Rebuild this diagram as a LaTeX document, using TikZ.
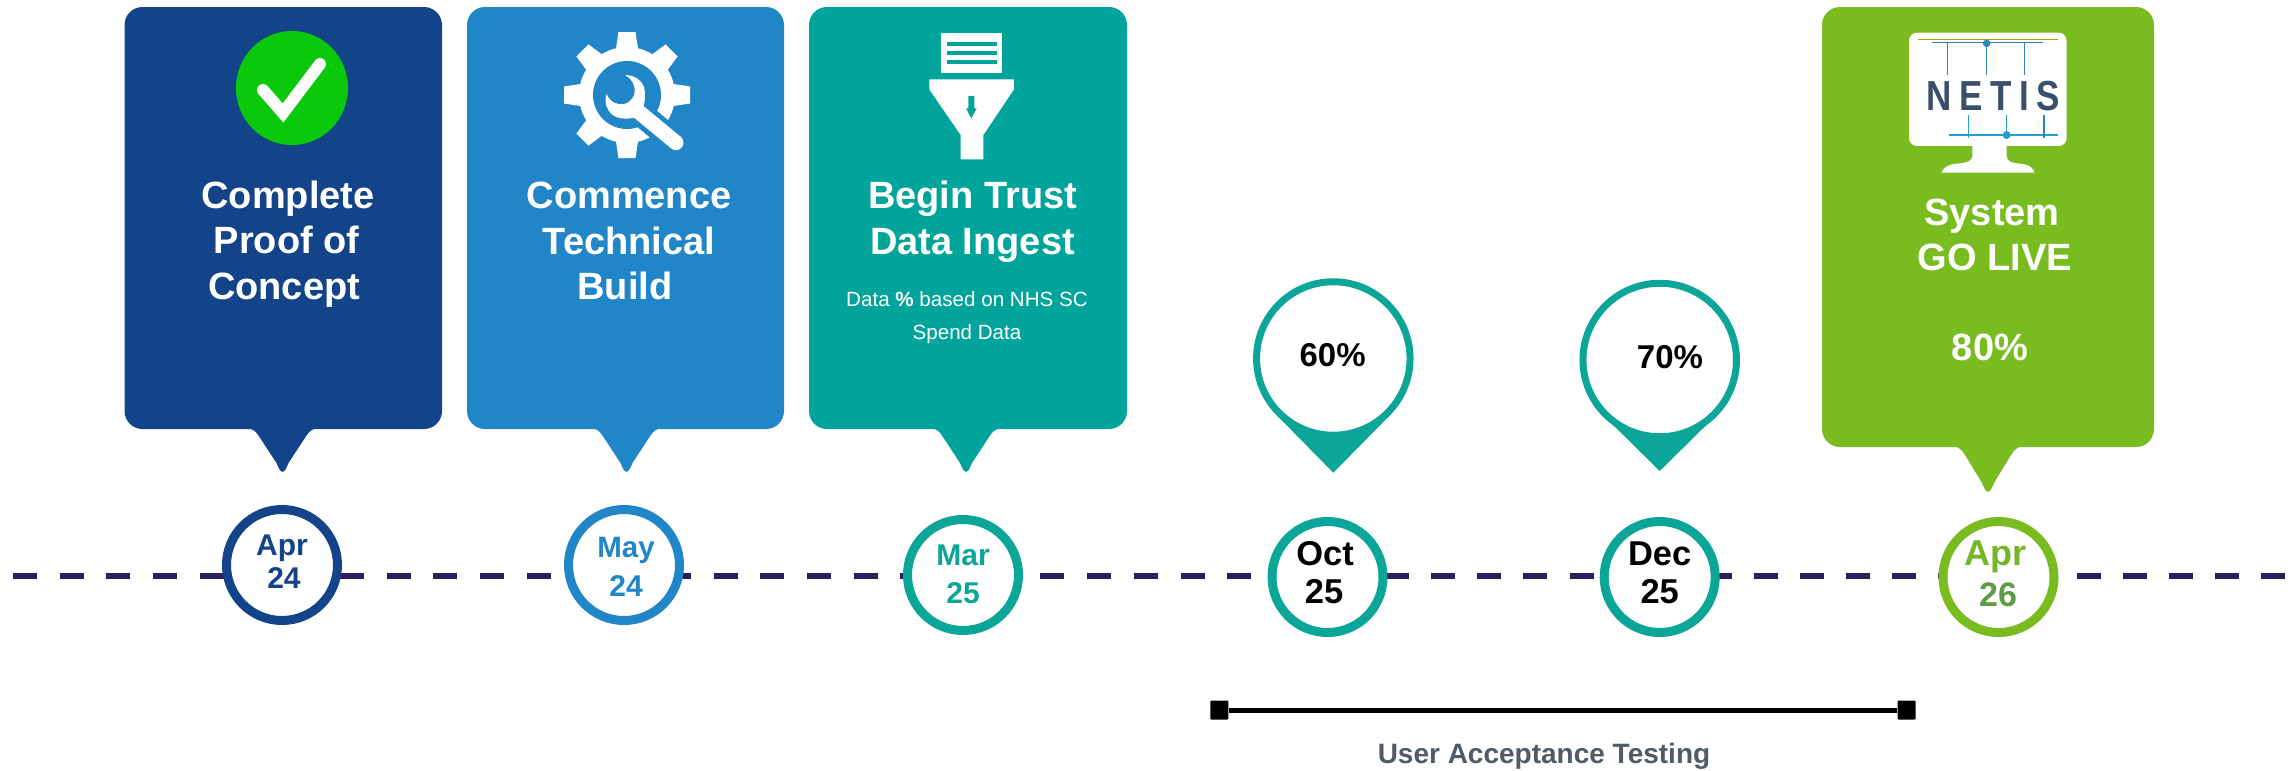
\documentclass[tikz,border=0pt]{standalone}
\usepackage{fontspec}
\setmainfont{Liberation Sans}
\newfontfamily\netisfont[LetterSpace=22,BoldFont={Liberation Sans Bold}]{Liberation Sans}
\definecolor{navy}{HTML}{134389}
\definecolor{midblue}{HTML}{2186C8}
\definecolor{teal}{HTML}{00A49A}
\definecolor{ringteal}{HTML}{0CA698}
\definecolor{leaf}{HTML}{78BC1F}
\definecolor{leafdark}{HTML}{5E9C45}
\definecolor{axis}{HTML}{2A1F5C}
\definecolor{okgreen}{HTML}{0AC80A}
\definecolor{netisink}{HTML}{3A4F6B}
\definecolor{netisblue}{HTML}{2E86C1}
\definecolor{netiscyan}{HTML}{23A0C8}
\definecolor{uat}{HTML}{4F5B66}
\newcommand{\bubble}[6]{%
  \fill[#1,rounded corners=18pt] (#2,7) rectangle (#3,#4);
  \fill[#1] (#5-36,#4-1) .. controls (#5-30,#4-1) and (#5-26,#4+3) .. (#5-23,#4+8)
    -- (#5-6,#6-9) .. controls (#5-3,#6-2) and (#5-2,#6) .. (#5,#6)
    .. controls (#5+2,#6) and (#5+3,#6-2) .. (#5+6,#6-9)
    -- (#5+23,#4+8) .. controls (#5+26,#4+3) and (#5+30,#4-1) .. (#5+36,#4-1) -- cycle;
}
\tikzset{
  title/.style={text=white,font=\bfseries\fontsize{38}{45.5}\selectfont,align=center,inner sep=0pt},
  small/.style={text=white,font=\fontsize{20.6}{33}\selectfont,align=center,inner sep=0pt},
  daylabel/.style={anchor=base,inner sep=0pt,font=\bfseries\fontsize{#1}{#1}\selectfont},
  daylabel/.default=30,
  datering/.style={circle,draw=#1,line width=9pt,fill=white,minimum size=111pt,inner sep=0pt},
  pinring/.style={circle,draw=ringteal,line width=7pt,fill=white,minimum size=153.5pt,inner sep=0pt},
  barcap/.style={fill=black,minimum width=18pt,minimum height=19pt,inner sep=0pt,rounded corners=1pt},
}
\begin{document}
\begin{tikzpicture}[x=1pt,y=-1pt]
\useasboundingbox (0,0) rectangle (2295,771);
\fill[white] (0,0) rectangle (2295,771);

% timeline
\coordinate (axisL) at (13,576);
\coordinate (axisM) at (1339,576);
\coordinate (axisR) at (2295,576);
\draw[axis,line width=5.5pt,dash pattern=on 24pt off 22.7pt] (axisL) -- (axisM);
\draw[axis,line width=5.5pt,dash pattern=on 24pt off 22.1pt] (axisM) -- (axisR);

% bubbles
\bubble{navy}{124.5}{442}{429}{282.5}{472}
\bubble{midblue}{467}{784}{429}{626.5}{472}
\bubble{teal}{809}{1127}{429}{966}{472}
\bubble{leaf}{1822}{2154}{447}{1988}{492}

\node[title] (t1) at (288,244) {Complete\\Proof of\kern3pt\\Concept\kern8pt};
\node[title] (t2) at (629,241) {Commence\\Technical\\Build\kern8pt};
\node[title] (t3) at (972.5,222) {Begin Trust\\Data Ingest};
\node[small] (t3b) at (967,318) {Data {\bfseries\%} based on NHS SC\\Spend Data};
\node[title] (t4) at (1995,235) {System\kern6pt\\GO LIVE};
\node[title,anchor=base] (t4b) at (1990,360) {80\%};

% check icon
\fill[okgreen] (292,88) ellipse [x radius=56pt,y radius=57pt];
\draw[white,line width=12pt,line cap=round,line join=miter] (263,90) -- (283,113) -- (320,64);

% gear icon
\begin{scope}[shift={(627,95)}]
  \foreach \a in {0,45,...,315}{
    \fill[white,rotate=\a] (-12,-40) -- (-8.5,-63) -- (8.5,-63) -- (12,-40) -- cycle;
  }
  \fill[white] (0,0) circle[radius=48pt];
  \fill[midblue] (0,0) circle[radius=34pt];
\end{scope}
\begin{scope}[shift={(550,20)},x=0.3333pt,y=-0.3333pt]
  \draw[midblue,line width=25pt,line cap=round] (262,272) -- (372,364);
  \draw[white,line width=15pt,line cap=round] (262,272) -- (378,368);
  \fill[white] (225,165) .. controls (262,165) and (288,190) .. (285,228)
    .. controls (285,250) and (280,270) .. (265,290)
    .. controls (235,300) and (190,300) .. (175,270)
    .. controls (165,255) and (165,238) .. (170,222)
    .. controls (180,248) and (205,256) .. (222,252)
    .. controls (246,246) and (258,225) .. (253,200)
    .. controls (248,182) and (238,172) .. (225,165) -- cycle;
\end{scope}

% funnel icon
\begin{scope}[shift={(900,20)},x=0.3333pt,y=-0.3333pt]
  \fill[white] (122,40) rectangle (307,160);
  \fill[teal] (142,66) rectangle (290,78);
  \fill[teal] (142,94) rectangle (290,106);
  \fill[teal] (142,121) rectangle (290,133);
  \fill[white] (88,178) -- (342,178) -- (342,208) -- (250,345) -- (250,418) -- (182,418) -- (182,345) -- (88,208) -- cycle;
  \fill[teal] (205,228) -- (223,228) -- (223,265) -- (230,265) -- (214,295) -- (198,265) -- (205,265) -- cycle;
\end{scope}

% monitor icon
\begin{scope}[shift={(1895,20)},x=0.3333pt,y=-0.3333pt]
  \fill[white,rounded corners=8pt] (42,38) rectangle (515,378);
  \fill[white] (232,370) -- (335,370) -- (335,410) .. controls (337,425) and (350,430) .. (385,432)
    .. controls (405,436) and (418,448) .. (418,458) -- (140,458)
    .. controls (140,448) and (155,436) .. (175,432)
    .. controls (210,430) and (230,425) .. (232,410) -- cycle;
  \draw[leaf!60!orange,line width=1pt] (70,60) -- (490,60);
  \draw[netisblue,line width=1.4pt] (110,68) -- (445,68);
  \draw[netisblue,line width=1.4pt] (158,68) -- (158,165);
  \draw[netisblue,line width=1.4pt] (275,68) -- (275,165);
  \draw[netisblue,line width=1.4pt] (388,68) -- (388,165);
  \fill[netisblue] (275,70) circle[radius=3.8pt];
  \draw[netiscyan,line width=1.4pt] (163,345) -- (490,345);
  \draw[netiscyan,line width=1.4pt] (220,285) -- (220,355);
  \draw[netiscyan,line width=1.4pt] (335,285) -- (335,355);
  \draw[netisblue,line width=1.4pt] (447,285) -- (447,355);
  \fill[netiscyan] (335,345) circle[radius=4pt];
\end{scope}
\node[text=netisink,inner sep=0pt,yscale=1.2,font=\netisfont\bfseries\fontsize{35}{35}\selectfont] (netis) at (1993,96) {NETIS};

% pins
\fill[ringteal] (1276.5,415) -- (1390.1,415) -- (1333.3,472.7) -- cycle;
\node[pinring] (p60) at (1333.3,358.5) {};
\node[daylabel=33] (p60t) at (1332.6,366) {60\%};
\fill[ringteal] (1604,416) -- (1715.4,416) -- (1659.7,471) -- cycle;
\node[pinring] (p70) at (1659.7,360) {};
\node[daylabel=33] (p70t) at (1670,368) {70\%};

% date rings
\node[datering=navy] (d1) at (282,565) {};
\node[daylabel,text=navy] (d1a) at (282,555) {Apr};
\node[daylabel,text=navy] (d1b) at (284,588) {24};
\node[datering=midblue] (d2) at (624,565) {};
\node[daylabel=29.5,text=midblue] (d2a) at (626,557) {May};
\node[daylabel,text=midblue] (d2b) at (626,596) {24};
\node[datering=ringteal] (d3) at (963,575) {};
\node[daylabel,text=ringteal] (d3a) at (963,565) {Mar};
\node[daylabel,text=ringteal] (d3b) at (963,603) {25};
\node[datering=ringteal] (d4) at (1327.5,577) {};
\node[daylabel=34.5] (d4a) at (1325,565) {Oct};
\node[daylabel=34.5] (d4b) at (1324,603) {25};
\node[datering=ringteal] (d5) at (1659.7,577) {};
\node[daylabel=34.5] (d5a) at (1659.7,565) {Dec};
\node[daylabel=34.5] (d5b) at (1659.7,603) {25};
\node[datering=leaf] (d6) at (1998.5,577) {};
\node[daylabel=36,text=leaf!80!leafdark] (d6a) at (1995.6,565) {Apr};
\node[daylabel=34,text=leafdark] (d6b) at (1998,606) {26};

% UAT bar
\node[barcap] (barL) at (1219.4,710) {};
\node[barcap] (barR) at (1906.5,710) {};
\draw[black,line width=5pt] (barL) -- (barR);
\node[daylabel=28,text=uat] (uat) at (1544,763) {User Acceptance Testing};
\end{tikzpicture}
\end{document}
